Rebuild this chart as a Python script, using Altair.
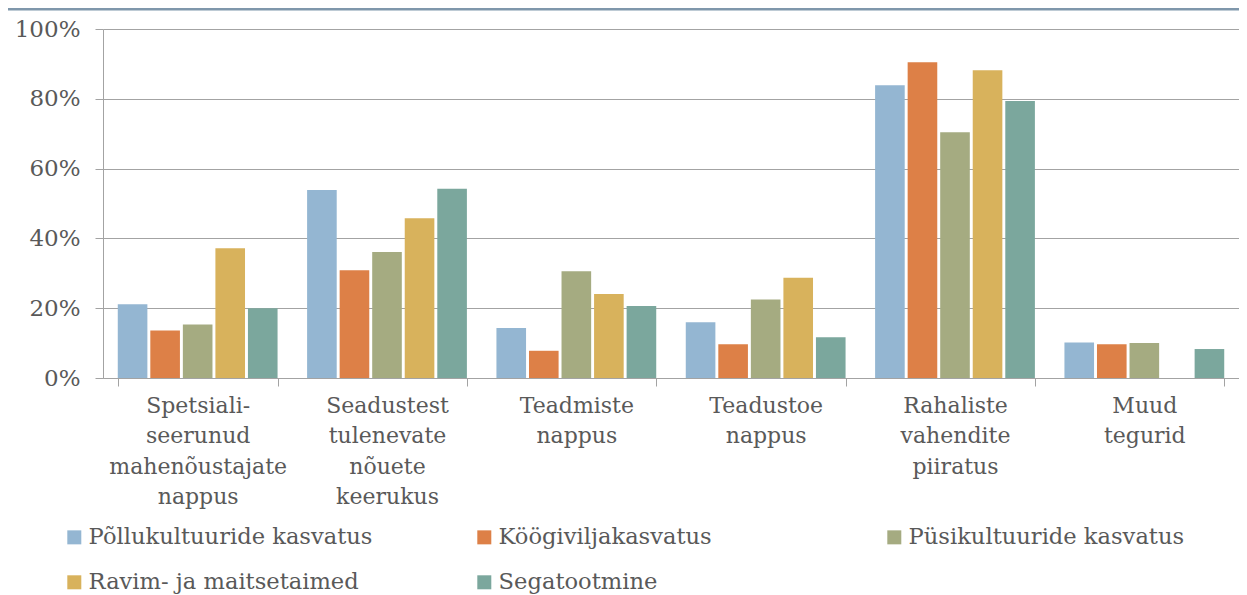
import altair as alt
import pandas as pd

categories = [
    "Spetsiali-|seerunud|mahenõustajate|nappus",
    "Seadustest|tulenevate|nõuete|keerukus",
    "Teadmiste|nappus",
    "Teadustoe|nappus",
    "Rahaliste|vahendite|piiratus",
    "Muud|tegurid",
]
series = [
    "Põllukultuuride kasvatus",
    "Köögiviljakasvatus",
    "Püsikultuuride kasvatus",
    "Ravim- ja maitsetaimed",
    "Segatootmine",
]
colors = ["#94B6D2", "#DD8047", "#A5AB81", "#D8B25C", "#7BA79D"]

pollu = [0.211, 0.539, 0.143, 0.160, 0.839, 0.102]
koogi = [0.136, 0.309, 0.078, 0.097, 0.905, 0.097]
pusi = [0.153, 0.361, 0.306, 0.225, 0.704, 0.100]
ravim = [0.372, 0.458, 0.241, 0.287, 0.882, None]
sega = [0.200, 0.542, 0.206, 0.117, 0.794, 0.083]

rows = []
for s, vals in zip(series, [pollu, koogi, pusi, ravim, sega]):
    for c, v in zip(categories, vals):
        if v is not None:
            rows.append({"category": c, "series": s, "value": v})
df = pd.DataFrame(rows)

FONT = "DejaVu Serif"
TXT = "#595959"
GRID = "#a3a3a3"
W, H = 1136, 349

bars = alt.Chart(df).mark_bar().encode(
    x=alt.X(
        "category:N",
        sort=categories,
        scale=alt.Scale(paddingInner=0.156, paddingOuter=0.078),
        axis=alt.Axis(
            title=None,
            labelAngle=0,
            tickBand="extent",
            labelExpr="split(datum.label, '|')",
            labelFont=FONT,
            labelFontSize=22,
            labelColor=TXT,
            labelLineHeight=30.5,
            labelPadding=9,
            labelBaseline="top",
            tickSize=8,
            tickColor=GRID,
            domainColor=GRID,
            grid=False,
        ),
    ),
    xOffset=alt.XOffset(
        "series:N", sort=series, scale=alt.Scale(paddingInner=0.09, paddingOuter=0)
    ),
    y=alt.Y(
        "value:Q",
        scale=alt.Scale(domain=[0, 1], nice=False),
        axis=alt.Axis(
            title=None,
            format=".0%",
            values=[0, 0.2, 0.4, 0.6, 0.8, 1.0],
            labelFont=FONT,
            labelFontSize=23,
            labelColor=TXT,
            labelPadding=15,
            tickSize=8,
            tickColor=GRID,
            domainColor=GRID,
            grid=True,
            gridColor=GRID,
        ),
    ),
    color=alt.Color(
        "series:N",
        sort=series,
        scale=alt.Scale(domain=series, range=colors),
        legend=alt.Legend(
            title=None,
            orient="none",
            direction="horizontal",
            legendX=-40,
            legendY=497,
            columns=3,
            gridAlign="all",
            columnPadding=100,
            rowPadding=22,
            symbolType="square",
            symbolSize=196,
            symbolStrokeWidth=0,
            labelFont=FONT,
            labelFontSize=22.6,
            labelColor=TXT,
            labelOffset=3,
            labelLimit=500,
        ),
    ),
)

topline = alt.Chart(pd.DataFrame({"a": [0]})).mark_rule(
    color="#7f97ab", strokeWidth=3
).encode(x=alt.value(-95), x2=alt.value(W), y=alt.value(-20))

chart = (
    alt.layer(bars, topline)
    .properties(
        width=W,
        height=H,
        padding={"left": 95, "top": 21, "right": 0, "bottom": 217},
        autosize=alt.AutoSizeParams(type="none"),
    )
    .configure_view(stroke=None)
)

chart.save("out.html", embed_options={"renderer": "svg", "actions": False})
